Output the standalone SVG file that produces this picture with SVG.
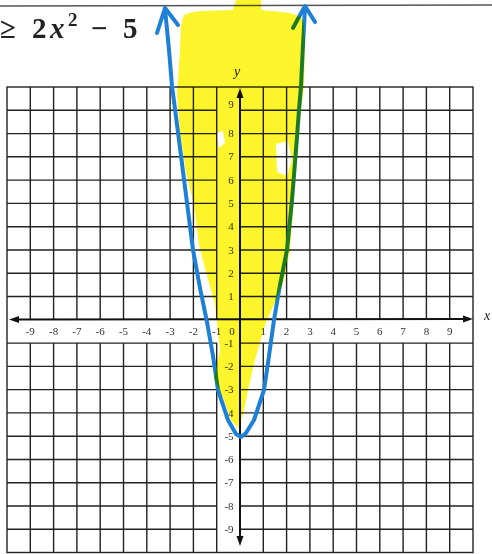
<svg xmlns="http://www.w3.org/2000/svg" width="492" height="554" viewBox="0 0 492 554">
<defs>
<style>
.g{stroke:#222;stroke-width:1.4;fill:none}
.ax{stroke:#111;stroke-width:2;fill:none}
.lb{font-family:"Liberation Serif",serif;font-size:11px;fill:#333;text-anchor:middle}
.cv{stroke:#1d80d6;stroke-width:4;fill:none;stroke-linejoin:round;stroke-linecap:round}
.hl{fill:#fdf52c;mix-blend-mode:multiply;fill-rule:evenodd}
</style>
</defs>
<rect x="0" y="0" width="492" height="554" fill="#fff"/>
<line x1="0" y1="6" x2="492" y2="5" stroke="#555" stroke-width="1.5"/>
<g id="title" font-family="'Liberation Serif',serif" font-weight="bold" font-size="29" fill="#222">
<text x="0" y="38">≥</text>
<text x="32" y="38">2</text>
<text x="50" y="38" font-style="italic">x</text>
<text x="68" y="26" font-size="19">2</text>
<text x="91" y="38">−</text>
<text x="123" y="38">5</text>
</g>
<g id="grid" class="g">
<rect x="7" y="87" width="466" height="465.5"/>
<path d="M30.3 87V320M53.6 87V320M76.9 87V320M100.2 87V320M123.5 87V320M146.8 87V320M170.1 87V320M193.4 87V320M216.7 87V320M263.3 87V320M286.6 87V320M309.9 87V320M333.2 87V320M356.5 87V320M379.8 87V320M403.1 87V320M426.4 87V320M449.7 87V320"/>
<path d="M30.3 343V552M53.6 343V552M76.9 343V552M100.2 343V552M123.5 343V552M146.8 343V552M170.1 343V552M193.4 343V552M216.7 343V552M263.3 343V552M286.6 343V552M309.9 343V552M333.2 343V552M356.5 343V552M379.8 343V552M403.1 343V552M426.4 343V552M449.7 343V552"/>
<path d="M7 110.3H217M7 133.6H217M7 156.8H217M7 180.1H217M7 203.4H217M7 226.7H217M7 250H217M7 273.2H217M7 296.5H217M7 343.1H217M7 366.4H217M7 389.6H217M7 412.9H217M7 436.2H217M7 459.5H217M7 482.8H217M7 506H217M7 529.3H217"/>
<path d="M240 110.3H473M240 133.6H473M240 156.8H473M240 180.1H473M240 203.4H473M240 226.7H473M240 250H473M240 273.2H473M240 296.5H473M240 343.1H473M240 366.4H473M240 389.6H473M240 412.9H473M240 436.2H473M240 459.5H473M240 482.8H473M240 506H473M240 529.3H473"/>
</g>
<g id="axes">
<line class="ax" x1="16" y1="319.5" x2="466" y2="319"/>
<line class="ax" x1="240" y1="95" x2="240" y2="540"/>
<path d="M9 319.5L19 316V323Z" fill="#111"/>
<path d="M473 319L463 315.5V322.5Z" fill="#111"/>
<path d="M240 88L236.5 98H243.5Z" fill="#111"/>
<path d="M240 546L236.5 536H243.5Z" fill="#111"/>
<text x="237" y="76" font-family="'Liberation Serif',serif" font-style="italic" font-size="14" fill="#222" text-anchor="middle">y</text>
<text x="487" y="320" font-family="'Liberation Serif',serif" font-style="italic" font-size="14" fill="#222" text-anchor="middle">x</text>
</g>
<g id="xlabels" class="lb">
<text x="30.3" y="335">-9</text><text x="53.6" y="335">-8</text><text x="76.9" y="335">-7</text><text x="100.2" y="335">-6</text><text x="123.5" y="335">-5</text><text x="146.8" y="335">-4</text><text x="170.1" y="335">-3</text><text x="193.4" y="335">-2</text><text x="216.7" y="335">-1</text><text x="232" y="335">0</text>
<text x="263.3" y="335">1</text><text x="286.6" y="335">2</text><text x="309.9" y="335">3</text><text x="333.2" y="335">4</text><text x="356.5" y="335">5</text><text x="379.8" y="335">6</text><text x="403.1" y="335">7</text><text x="426.4" y="335">8</text><text x="449.7" y="335">9</text>
</g>
<g id="ylabels" class="lb">
<text x="231" y="108">9</text><text x="231" y="137">8</text><text x="231" y="160">7</text><text x="231" y="184">6</text><text x="231" y="207">5</text><text x="231" y="230">4</text><text x="231" y="254">3</text><text x="231" y="277">2</text><text x="231" y="300">1</text>
<text x="229" y="347">-1</text><text x="229" y="370">-2</text><text x="229" y="393">-3</text><text x="229" y="417">-4</text><text x="229" y="440">-5</text><text x="229" y="463">-6</text><text x="229" y="486">-7</text><text x="229" y="510">-8</text><text x="229" y="533">-9</text>
</g>
<g id="curve">
<polyline class="cv" points="165,9 169,50 172,86 179,140 186,195 193,250 200,288 207,322 213,356 218,390 228,420 236,434 241,437 246,433 254,420 264,390 269,356 274,320 280,285 287,250 292,200 296,150 299,110 301,86 303,45 305,8"/>
<polyline class="cv" points="157,33 165,8 178,25"/>
<polyline class="cv" points="293,28 305,6 315,22"/>
</g>
<path id="highlight" class="hl" d="M184 15Q192 11 205 11L233 10L236 0H261V10L282 12Q298 13 303 20L305 40L304 86L301 110L298 150L294 200L290 250L284 280L276 300L265 325L255 360L248 390L243 415L238 428L231 420L224 400L214 378L220 350L215 304L206 272L199 245L194 205L186 172L180 132L177 95L180 50L181 25Z M276 144L288 141L292 160L287 176L277 172Z M216 133L223 131L225 143L219 148Z"/>
</svg>
